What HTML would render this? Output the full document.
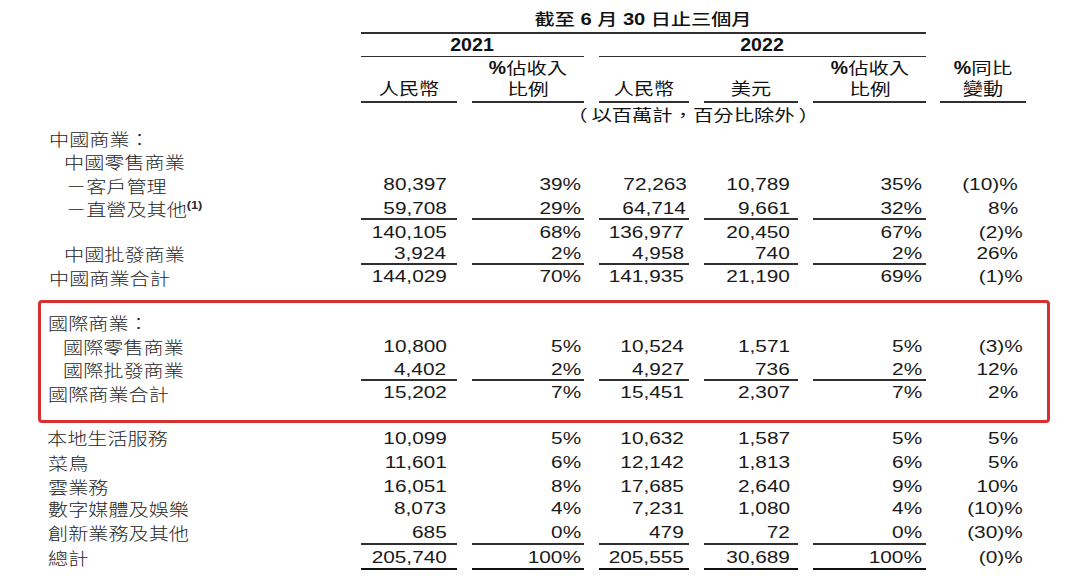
<!DOCTYPE html>
<html><head><meta charset="utf-8"><title>table</title>
<style>
html,body{margin:0;padding:0;background:#fff;}
body{width:1080px;height:587px;overflow:hidden;position:relative;}
.n{position:absolute;white-space:nowrap;font-family:"Liberation Sans",Arial,sans-serif;font-size:16.0px;line-height:16.0px;color:#1a1a1a;transform:scaleX(1.3);transform-origin:100% 0;text-align:right;}
.c{position:absolute;white-space:nowrap;font-family:"Liberation Sans","Noto Sans CJK TC",sans-serif;font-weight:300;font-size:16.5px;line-height:16.5px;color:#262626;transform:scaleX(1.22);transform-origin:0 0;}
.h{position:absolute;white-space:nowrap;font-family:"Liberation Sans","Noto Sans CJK TC",sans-serif;font-weight:400;font-size:16.5px;line-height:16.5px;color:#111;transform:translateX(-50%) scaleX(1.22);transform-origin:50% 0;}
.ln{position:absolute;height:1.5px;background:#2a2a2a;}
.sup{font-family:"Liberation Sans",sans-serif;font-size:11px;font-weight:700;position:absolute;top:-5px;margin-left:0.4px;color:#2a2a2a;transform:scaleX(0.95);transform-origin:0 0;}
.box{position:absolute;left:38px;top:299.6px;width:1011.8px;height:123px;box-sizing:border-box;border:3.3px solid #d6302f;border-radius:4px;}
</style></head><body>

<div class="c" style="left:48.6px;top:131.80px">中國商業：</div>
<div class="c" style="left:64.1px;top:154.70px">中國零售商業</div>
<div class="c" style="left:66.3px;top:178.80px">－客戶管理</div>
<div class="n" style="right:633.5px;top:177.00px">80,397</div>
<div class="n" style="right:499.1px;top:177.00px">39%</div>
<div class="n" style="right:393.4px;top:177.00px">72,263</div>
<div class="n" style="right:290.1px;top:177.00px">10,789</div>
<div class="n" style="right:158.1px;top:177.00px">35%</div>
<div class="n" style="right:62.4px;top:177.00px">(10)%</div>
<div class="c" style="left:66.3px;top:202.40px">－直營及其他<span class="sup">(1)</span></div>
<div class="n" style="right:633.5px;top:201.00px">59,708</div>
<div class="n" style="right:499.1px;top:201.00px">29%</div>
<div class="n" style="right:393.6px;top:201.00px">64,714</div>
<div class="n" style="right:290.1px;top:201.00px">9,661</div>
<div class="n" style="right:158.1px;top:201.00px">32%</div>
<div class="n" style="right:61.8px;top:201.00px">8%</div>
<div class="n" style="right:633.5px;top:225.00px">140,105</div>
<div class="n" style="right:499.1px;top:225.00px">68%</div>
<div class="n" style="right:396.2px;top:225.00px">136,977</div>
<div class="n" style="right:290.1px;top:225.00px">20,450</div>
<div class="n" style="right:158.1px;top:225.00px">67%</div>
<div class="n" style="right:57.1px;top:225.00px">(2)%</div>
<div class="c" style="left:64.1px;top:247.10px">中國批發商業</div>
<div class="n" style="right:633.5px;top:246.00px">3,924</div>
<div class="n" style="right:499.1px;top:246.00px">2%</div>
<div class="n" style="right:396.2px;top:246.00px">4,958</div>
<div class="n" style="right:290.1px;top:246.00px">740</div>
<div class="n" style="right:158.1px;top:246.00px">2%</div>
<div class="n" style="right:61.8px;top:246.00px">26%</div>
<div class="c" style="left:48.6px;top:271.20px">中國商業合計</div>
<div class="n" style="right:633.5px;top:269.00px">144,029</div>
<div class="n" style="right:499.1px;top:269.00px">70%</div>
<div class="n" style="right:396.2px;top:269.00px">141,935</div>
<div class="n" style="right:290.1px;top:269.00px">21,190</div>
<div class="n" style="right:158.1px;top:269.00px">69%</div>
<div class="n" style="right:57.1px;top:269.00px">(1)%</div>
<div class="c" style="left:47.7px;top:315.90px">國際商業：</div>
<div class="c" style="left:62.7px;top:339.70px">國際零售商業</div>
<div class="n" style="right:633.5px;top:339.00px">10,800</div>
<div class="n" style="right:499.1px;top:339.00px">5%</div>
<div class="n" style="right:396.2px;top:339.00px">10,524</div>
<div class="n" style="right:290.1px;top:339.00px">1,571</div>
<div class="n" style="right:158.1px;top:339.00px">5%</div>
<div class="n" style="right:57.5px;top:339.00px">(3)%</div>
<div class="c" style="left:62.7px;top:363.00px">國際批發商業</div>
<div class="n" style="right:633.5px;top:362.00px">4,402</div>
<div class="n" style="right:499.1px;top:362.00px">2%</div>
<div class="n" style="right:396.2px;top:362.00px">4,927</div>
<div class="n" style="right:290.1px;top:362.00px">736</div>
<div class="n" style="right:158.1px;top:362.00px">2%</div>
<div class="n" style="right:61.8px;top:362.00px">12%</div>
<div class="c" style="left:47.7px;top:386.60px">國際商業合計</div>
<div class="n" style="right:633.5px;top:385.00px">15,202</div>
<div class="n" style="right:499.1px;top:385.00px">7%</div>
<div class="n" style="right:396.2px;top:385.00px">15,451</div>
<div class="n" style="right:290.1px;top:385.00px">2,307</div>
<div class="n" style="right:158.1px;top:385.00px">7%</div>
<div class="n" style="right:61.8px;top:385.00px">2%</div>
<div class="c" style="left:47.3px;top:430.90px">本地生活服務</div>
<div class="n" style="right:633.5px;top:431.00px">10,099</div>
<div class="n" style="right:499.1px;top:431.00px">5%</div>
<div class="n" style="right:396.2px;top:431.00px">10,632</div>
<div class="n" style="right:290.1px;top:431.00px">1,587</div>
<div class="n" style="right:158.1px;top:431.00px">5%</div>
<div class="n" style="right:61.8px;top:431.00px">5%</div>
<div class="c" style="left:47.9px;top:455.70px">菜鳥</div>
<div class="n" style="right:633.5px;top:455.00px">11,601</div>
<div class="n" style="right:499.1px;top:455.00px">6%</div>
<div class="n" style="right:396.2px;top:455.00px">12,142</div>
<div class="n" style="right:290.1px;top:455.00px">1,813</div>
<div class="n" style="right:158.1px;top:455.00px">6%</div>
<div class="n" style="right:61.8px;top:455.00px">5%</div>
<div class="c" style="left:47.9px;top:479.60px">雲業務</div>
<div class="n" style="right:633.5px;top:479.00px">16,051</div>
<div class="n" style="right:499.1px;top:479.00px">8%</div>
<div class="n" style="right:396.2px;top:479.00px">17,685</div>
<div class="n" style="right:290.1px;top:479.00px">2,640</div>
<div class="n" style="right:158.1px;top:479.00px">9%</div>
<div class="n" style="right:61.8px;top:479.00px">10%</div>
<div class="c" style="left:48.1px;top:502.10px">數字媒體及娛樂</div>
<div class="n" style="right:633.5px;top:501.00px">8,073</div>
<div class="n" style="right:499.1px;top:501.00px">4%</div>
<div class="n" style="right:396.2px;top:501.00px">7,231</div>
<div class="n" style="right:290.1px;top:501.00px">1,080</div>
<div class="n" style="right:158.1px;top:501.00px">4%</div>
<div class="n" style="right:57.0px;top:501.00px">(10)%</div>
<div class="c" style="left:48.1px;top:525.90px">創新業務及其他</div>
<div class="n" style="right:633.5px;top:525.00px">685</div>
<div class="n" style="right:499.1px;top:525.00px">0%</div>
<div class="n" style="right:396.2px;top:525.00px">479</div>
<div class="n" style="right:290.1px;top:525.00px">72</div>
<div class="n" style="right:158.1px;top:525.00px">0%</div>
<div class="n" style="right:57.0px;top:525.00px">(30)%</div>
<div class="c" style="left:47.9px;top:551.10px">總計</div>
<div class="n" style="right:633.5px;top:550.00px">205,740</div>
<div class="n" style="right:499.1px;top:550.00px">100%</div>
<div class="n" style="right:396.2px;top:550.00px">205,555</div>
<div class="n" style="right:290.1px;top:550.00px">30,689</div>
<div class="n" style="right:158.1px;top:550.00px">100%</div>
<div class="n" style="right:57.0px;top:550.00px">(0)%</div>
<div class="ln" style="left:361.3px;width:95.6px;top:218.15px;height:1.7px;background:#303030"></div>
<div class="ln" style="left:471.8px;width:112.0px;top:218.15px;height:1.7px;background:#303030"></div>
<div class="ln" style="left:598.9px;width:90.2px;top:218.15px;height:1.7px;background:#303030"></div>
<div class="ln" style="left:704.0px;width:94.0px;top:218.15px;height:1.7px;background:#303030"></div>
<div class="ln" style="left:813.3px;width:112.3px;top:218.15px;height:1.7px;background:#303030"></div>
<div class="ln" style="left:361.3px;width:95.6px;top:263.25px;height:1.7px;background:#303030"></div>
<div class="ln" style="left:471.8px;width:112.0px;top:263.25px;height:1.7px;background:#303030"></div>
<div class="ln" style="left:598.9px;width:90.2px;top:263.25px;height:1.7px;background:#303030"></div>
<div class="ln" style="left:704.0px;width:94.0px;top:263.25px;height:1.7px;background:#303030"></div>
<div class="ln" style="left:813.3px;width:112.3px;top:263.25px;height:1.7px;background:#303030"></div>
<div class="ln" style="left:361.3px;width:95.6px;top:379.35px;height:1.7px;background:#303030"></div>
<div class="ln" style="left:471.8px;width:112.0px;top:379.35px;height:1.7px;background:#303030"></div>
<div class="ln" style="left:598.9px;width:90.2px;top:379.35px;height:1.7px;background:#303030"></div>
<div class="ln" style="left:704.0px;width:94.0px;top:379.35px;height:1.7px;background:#303030"></div>
<div class="ln" style="left:813.3px;width:112.3px;top:379.35px;height:1.7px;background:#303030"></div>
<div class="ln" style="left:361.3px;width:95.6px;top:543.15px;height:1.7px;background:#303030"></div>
<div class="ln" style="left:471.8px;width:112.0px;top:543.15px;height:1.7px;background:#303030"></div>
<div class="ln" style="left:598.9px;width:90.2px;top:543.15px;height:1.7px;background:#303030"></div>
<div class="ln" style="left:704.0px;width:94.0px;top:543.15px;height:1.7px;background:#303030"></div>
<div class="ln" style="left:813.3px;width:112.3px;top:543.15px;height:1.7px;background:#303030"></div>
<div class="ln" style="left:361.3px;width:95.6px;top:567.80px;height:2.4px;background:#111"></div>
<div class="ln" style="left:471.8px;width:112.0px;top:567.80px;height:2.4px;background:#111"></div>
<div class="ln" style="left:598.9px;width:90.2px;top:567.80px;height:2.4px;background:#111"></div>
<div class="ln" style="left:704.0px;width:94.0px;top:567.80px;height:2.4px;background:#111"></div>
<div class="ln" style="left:813.3px;width:112.3px;top:567.80px;height:2.4px;background:#111"></div>
<div class="ln" style="left:361.3px;width:564.5px;top:31.85px;height:1.7px;background:#303030"></div>
<div class="ln" style="left:361.3px;width:222.5px;top:55.55px;height:1.7px;background:#303030"></div>
<div class="ln" style="left:598.9px;width:326.9px;top:55.55px;height:1.7px;background:#303030"></div>
<div class="ln" style="left:361.3px;width:95.6px;top:101.35px;height:1.7px;background:#303030"></div>
<div class="ln" style="left:471.8px;width:112.0px;top:101.35px;height:1.7px;background:#303030"></div>
<div class="ln" style="left:598.9px;width:90.2px;top:101.35px;height:1.7px;background:#303030"></div>
<div class="ln" style="left:704.0px;width:94.0px;top:101.35px;height:1.7px;background:#303030"></div>
<div class="ln" style="left:813.3px;width:112.3px;top:101.35px;height:1.7px;background:#303030"></div>
<div class="ln" style="left:940.0px;width:86.3px;top:101.35px;height:1.7px;background:#303030"></div>
<div class="h" style="left:643.4px;top:11.60px;font-weight:500;font-size:16px;transform:translateX(-50%) scaleX(1.257);">截至 <b>6</b> 月 <b>30</b> 日止三個月</div>
<div class="h" style="left:471.7px;top:36.80px;font-size:17.5px;transform:translateX(-50%) scaleX(1.12);"><b>2021</b></div>
<div class="h" style="left:761.9px;top:36.80px;font-size:17.5px;transform:translateX(-50%) scaleX(1.12);"><b>2022</b></div>
<div class="h" style="left:527.6px;top:59.50px;font-size:15.5px;transform:translateX(-50%) scaleX(1.31);"><b style="font-size:19px;display:inline-block;transform:scaleX(0.78);transform-origin:0 0;margin-right:-3.7px">%</b>佔收入</div>
<div class="h" style="left:527.6px;top:81.60px;font-size:15.5px;transform:translateX(-50%) scaleX(1.33);">比例</div>
<div class="h" style="left:869.5px;top:59.50px;font-size:15.5px;transform:translateX(-50%) scaleX(1.31);"><b style="font-size:19px;display:inline-block;transform:scaleX(0.78);transform-origin:0 0;margin-right:-3.7px">%</b>佔收入</div>
<div class="h" style="left:869.5px;top:81.60px;font-size:15.5px;transform:translateX(-50%) scaleX(1.33);">比例</div>
<div class="h" style="left:409.1px;top:80.50px;">人民幣</div>
<div class="h" style="left:644.4px;top:80.50px;">人民幣</div>
<div class="h" style="left:750.9px;top:80.50px;">美元</div>
<div class="h" style="left:983.1px;top:59.80px;font-size:15.5px;transform:translateX(-50%) scaleX(1.32);"><b style="font-size:19px;display:inline-block;transform:scaleX(0.78);transform-origin:0 0;margin-right:-3.7px">%</b>同比</div>
<div class="h" style="left:983.1px;top:80.50px;">變動</div>
<div class="h" style="left:693.3px;top:108.00px;font-size:16px;transform:translateX(-50%) scaleX(1.27);"><span style="margin-right:3px">（</span>以百萬計，百分比除外<span style="margin-left:3px">）</span></div>
<div class="box"></div>
</body></html>
